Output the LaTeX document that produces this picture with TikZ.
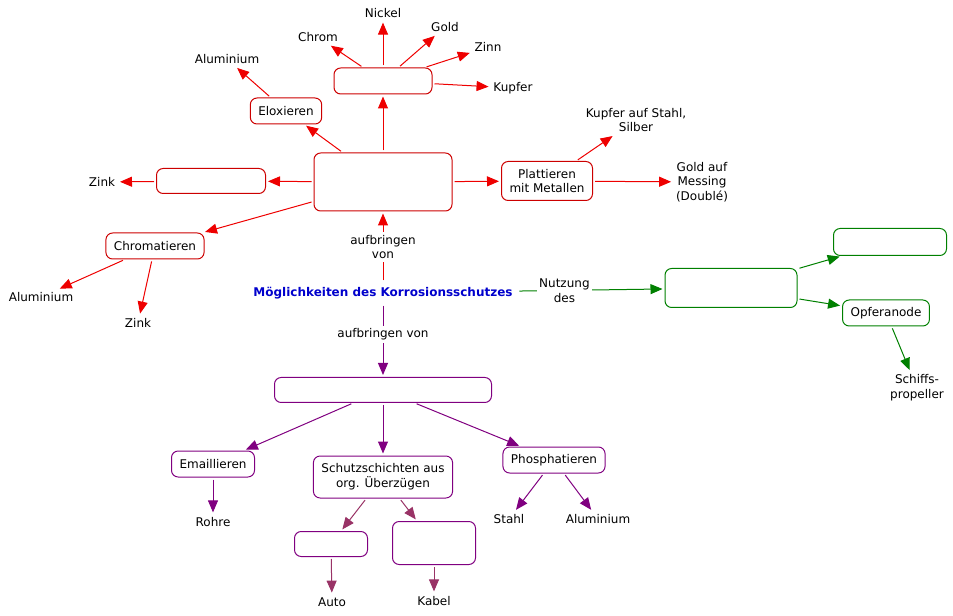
\documentclass[tikz,border=0pt]{standalone}
\usepackage{fontspec}
\setmainfont{DejaVu Sans}
\usetikzlibrary{arrows.meta}
\definecolor{boxred}{RGB}{204,0,0}
\definecolor{arrred}{RGB}{238,0,0}
\definecolor{lila}{RGB}{128,0,128}
\definecolor{mauve}{RGB}{153,51,102}
\definecolor{gruen}{RGB}{0,128,0}
\definecolor{titelblau}{RGB}{0,0,204}
\begin{document}
\begin{tikzpicture}[x=0.75pt,y=-0.75pt,line join=round,>={Triangle[length=9pt,width=7.5pt]},font=\fontsize{9}{11}\selectfont,
	box/.style={draw,rounded corners=5pt,line width=0.75pt,align=center,inner xsep=6pt,inner ysep=2pt,minimum height=19.5pt},
	lbl/.style={align=center,inner sep=2pt,text=black},
	arr/.style={->,line width=0.75pt,shorten <=1.5pt,shorten >=1.5pt}]
	\useasboundingbox (0,0) rectangle (953,616);
	% Mitte
	\node[font=\fontsize{9}{11}\selectfont\bfseries,text=titelblau] (main) at (383,293) {Möglichkeiten des Korrosionsschutzes};
	% rot: aufbringen von
	\node[box,draw=boxred,minimum width=103.5pt,minimum height=43.5pt] (coat) at (383,182) {};
	\node[box,draw=boxred,minimum width=73.5pt] (metals) at (383,81) {};
	\node[box,draw=boxred] (eloxal) at (286,111) {Eloxieren};
	\node[box,draw=boxred,minimum width=81.75pt,minimum height=18.75pt] (zinkbox) at (211,181) {};
	\node[box,draw=boxred] (chromat) at (155,246) {Chromatieren};
	\node[box,draw=boxred,minimum height=29.25pt] (plattier) at (547,181) {Plattieren\\mit Metallen};
	\node[lbl] (nickel) at (383,13) {Nickel};
	\node[lbl] (chrom) at (318,37) {Chrom};
	\node[lbl] (gold) at (445,27) {Gold};
	\node[lbl] (zinn) at (488,47) {Zinn};
	\node[lbl] (kupfer) at (513,88) {Kupfer};
	\node[lbl] (alu1) at (227,59) {Aluminium};
	\node[lbl] (zink1) at (102,182) {Zink};
	\node[lbl] (alu2) at (41,297) {Aluminium};
	\node[lbl] (zink2) at (138,323) {Zink};
	\node[lbl] (kupstahl) at (636,120) {Kupfer auf Stahl,\\Silber};
	\node[lbl] (goldmess) at (702,182) {Gold auf\\Messing\\(Doublé)};
	\draw[arr,arrred] (main) -- node[lbl,fill=white] {aufbringen\\von} (coat);
	\foreach \n in {metals,eloxal,zinkbox,chromat,plattier}
		\draw[arr,arrred] (coat) -- (\n);
	\foreach \n in {nickel,chrom,gold,zinn,kupfer}
		\draw[arr,arrred] (metals) -- (\n);
	\draw[arr,arrred] (eloxal) -- (alu1);
	\draw[arr,arrred] (zinkbox) -- (zink1);
	\draw[arr,arrred] (chromat) -- (alu2);
	\draw[arr,arrred] (chromat) -- (zink2);
	\draw[arr,arrred] (plattier) -- (kupstahl);
	\draw[arr,arrred] (plattier) -- (goldmess);
	% lila: aufbringen von
	\node[box,draw=lila,minimum width=162.75pt,minimum height=18.75pt] (lack) at (383,390) {};
	\node[box,draw=lila] (email) at (213,464) {Emaillieren};
	\node[box,draw=lila,minimum height=31.5pt] (schutz) at (383,477) {Schutzschichten aus\\org. Überzügen};
	\node[box,draw=lila] (phosphat) at (554,460) {Phosphatieren};
	\node[box,draw=lila,minimum width=54.75pt,minimum height=18.75pt] (autobox) at (331,544) {};
	\node[box,draw=lila,minimum width=62.25pt,minimum height=32.25pt] (kabelbox) at (434,543) {};
	\node[lbl] (rohre) at (213,522) {Rohre};
	\node[lbl] (stahl) at (509,519) {Stahl};
	\node[lbl] (alu3) at (598,519) {Aluminium};
	\node[lbl] (auto) at (332,602) {Auto};
	\node[lbl] (kabel) at (434,601) {Kabel};
	\draw[arr,lila] (main) -- node[lbl,fill=white,pos=0.42] {aufbringen von} (lack);
	\foreach \n in {email,schutz,phosphat}
		\draw[arr,lila] (lack) -- (\n);
	\draw[arr,lila] (email) -- (rohre);
	\draw[arr,lila] (phosphat) -- (stahl);
	\draw[arr,lila] (phosphat) -- (alu3);
	\draw[arr,mauve] (schutz) -- (autobox);
	\draw[arr,mauve] (schutz) -- (kabelbox);
	\draw[arr,mauve] (autobox) -- (auto);
	\draw[arr,mauve] (kabelbox) -- (kabel);
	% gruen: Nutzung des
	\node[box,draw=gruen,minimum width=99pt,minimum height=29.25pt] (nutzbox) at (731,288) {};
	\node[box,draw=gruen,minimum width=84.75pt,minimum height=20.25pt] (nutzoben) at (890,242) {};
	\node[box,draw=gruen] (opfer) at (886,313) {Opferanode};
	\node[lbl] (schiff) at (917,388) {Schiffs-\\propeller};
	\draw[arr,gruen] (main) -- node[lbl,fill=white,pos=0.32] {Nutzung\\des} (nutzbox);
	\draw[arr,gruen] (nutzbox) -- (nutzoben);
	\draw[arr,gruen] (nutzbox) -- (opfer);
	\draw[arr,gruen] (opfer) -- (schiff);
\end{tikzpicture}
\end{document}
